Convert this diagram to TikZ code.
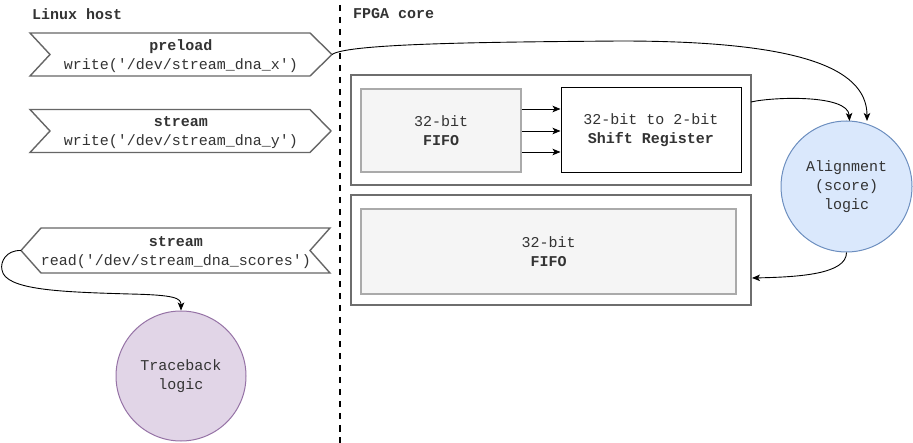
\documentclass[tikz,border=0pt]{standalone}
\usepackage{fontspec}
\setmonofont{Liberation Mono}
\usetikzlibrary{arrows.meta}
\definecolor{txt}{HTML}{333333}
\definecolor{chevline}{HTML}{666666}
\definecolor{outline}{HTML}{6E6E6E}
\definecolor{fifoline}{HTML}{AAAAAA}
\definecolor{fifofill}{HTML}{F5F5F5}
\definecolor{alfill}{HTML}{DAE8FC}
\definecolor{alline}{HTML}{6C8EBF}
\definecolor{tbfill}{HTML}{E1D5E7}
\definecolor{tbline}{HTML}{9673A6}
\tikzset{
  chev/.style={draw=chevline, line width=1.4pt, fill=white, line join=miter},
  lbl/.style={text=txt, align=center, inner sep=0pt},
  hdr/.style={text=txt, anchor=west, inner sep=0pt, font=\ttfamily\bfseries\fontsize{15}{19}\selectfont},
  outerbox/.style={draw=outline, line width=2pt, fill=white, minimum width=400pt, minimum height=110pt, inner sep=0pt},
  fifobox/.style={draw=fifoline, line width=1.5pt, fill=fifofill, text=txt, align=center, inner sep=0pt},
  srbox/.style={draw=black, line width=1pt, fill=white, text=txt, align=center, inner sep=0pt, minimum width=180pt, minimum height=85pt},
  logic/.style={circle, line width=1pt, text=txt, align=center, inner sep=0pt},
  conn/.style={draw=black, line width=0.9pt, -{Stealth[length=8pt,width=6.5pt,inset=2pt]}},
  divider/.style={line width=2pt, dash pattern=on 6.5pt off 5.5pt}
}
\begin{document}
\begin{tikzpicture}[x=1pt,y=-1pt, font=\ttfamily\fontsize{15}{19}\selectfont]
\useasboundingbox (0,0) rectangle (913,443);

% headers
\node[hdr] (linux) at (32,14) {Linux host};
\node[hdr] (fpga) at (353,14) {FPGA core};

% divider
\coordinate (divTop) at (340,5);
\coordinate (divBot) at (340,443);
\draw[divider] (divTop) -- (divBot);

% preload chevron
\draw[chev] (30,33) -- (310,33) -- (332,54.5) -- (310,76) -- (30,76) -- (50,54.5) -- cycle;
\coordinate (preTip) at (332,54.5);
\node[lbl] (preTxt) at (181,56) {\textbf{preload}\\write('/dev/stream\_dna\_x')};

% stream write chevron
\draw[chev] (30,109.5) -- (310,109.5) -- (331,131) -- (310,152.5) -- (30,152.5) -- (50,131) -- cycle;
\node[lbl] (strTxt) at (181,132.5) {\textbf{stream}\\write('/dev/stream\_dna\_y')};

% stream read chevron
\draw[chev] (41,228) -- (330,228) -- (310,250.5) -- (330,273) -- (41,273) -- (21,250.5) -- cycle;
\coordinate (readTip) at (21,250.5);
\node[lbl] (readTxt) at (176,252.5) {\textbf{stream}\\read('/dev/stream\_dna\_scores')};

% FPGA blocks
\node[outerbox] (outer1) at (551,130.5) {};
\node[fifobox, minimum width=160pt, minimum height=83pt] (fifo1) at (441,130.5) {32-bit\\\textbf{FIFO}};
\node[srbox] (sr) at (651,130.5) {32-bit to 2-bit\\\textbf{Shift Register}};

\node[outerbox] (outer2) at (551,250.5) {};
\node[fifobox, minimum width=375pt, minimum height=85pt] (fifo2) at (548.5,251.5) {32-bit\\\textbf{FIFO}};

% logic circles
\node[logic, draw=alline, fill=alfill, minimum size=131pt] (align) at (846.5,186.5) {Alignment\\(score)\\logic};
\node[logic, draw=tbline, fill=tbfill, minimum size=130pt] (trace) at (181,376) {Traceback\\logic};

% FIFO -> shift register
\draw[conn] (fifo1.east |- 0,109) -- (sr.west |- 0,109);
\draw[conn] (fifo1.east |- 0,131) -- (sr.west |- 0,131);
\draw[conn] (fifo1.east |- 0,152) -- (sr.west |- 0,152);

% curved connectors
\coordinate (alTopA) at (867,121);
\coordinate (alTopB) at (849.5,121);
\coordinate (out1R) at (751,102);
\coordinate (out2R) at (752,278);
\coordinate (trTop) at (181,310.5);

\draw[conn] (preTip) .. controls (348,43) and (500,42) .. (620,41)
  .. controls (790,41) and (867,65) .. (alTopA);
\draw[conn] (out1R) .. controls (772,97) and (848,94) .. (alTopB);
\draw[conn] (align.south) .. controls (846.5,274) and (800,277) .. (out2R);
\draw[conn] (readTip) .. controls (6,250) and (0,262) .. (2,270)
  .. controls (5,290) and (60,292) .. (130,294)
  .. controls (175,295) and (181,298) .. (trTop);
\end{tikzpicture}
\end{document}
